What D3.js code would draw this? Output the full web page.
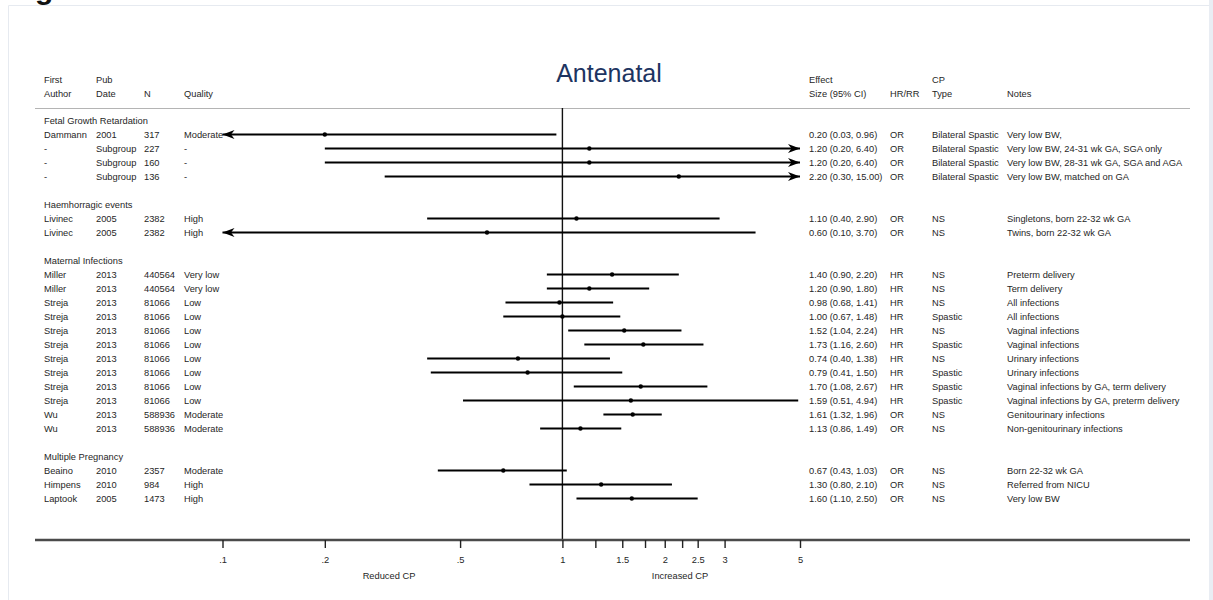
<!DOCTYPE html>
<html>
<head>
<meta charset="utf-8">
<script src="https://cdn.jsdelivr.net/npm/d3@7"></script>
<style>
  body { margin: 0; background: #fff; }
  svg text { font-family: "Liberation Sans", Arial, sans-serif; }
</style>
</head>
<body>
<svg id="chart" width="1213" height="600"></svg>
<script>
// dados do forest plot
const groups = ["Fetal Growth Retardation", "Haemhorragic events", "Maternal Infections", "Multiple Pregnancy"];
const groupOf  = [0, 0, 0, 0, 1, 1, 2, 2, 2, 2, 2, 2, 2, 2, 2, 2, 2, 2, 3, 3, 3];
const authors  = ["Dammann", "-", "-", "-", "Livinec", "Livinec", "Miller", "Miller", "Streja", "Streja", "Streja", "Streja", "Streja", "Streja", "Streja", "Streja", "Wu", "Wu", "Beaino", "Himpens", "Laptook"];
const pubDates = ["2001", "Subgroup", "Subgroup", "Subgroup", "2005", "2005", "2013", "2013", "2013", "2013", "2013", "2013", "2013", "2013", "2013", "2013", "2013", "2013", "2010", "2010", "2005"];
const sizes    = ["317", "227", "160", "136", "2382", "2382", "440564", "440564", "81066", "81066", "81066", "81066", "81066", "81066", "81066", "81066", "588936", "588936", "2357", "984", "1473"];
const quality  = ["Moderate", "-", "-", "-", "High", "High", "Very low", "Very low", "Low", "Low", "Low", "Low", "Low", "Low", "Low", "Low", "Moderate", "Moderate", "Moderate", "High", "High"];
const est      = [0.20, 1.20, 1.20, 2.20, 1.10, 0.60, 1.40, 1.20, 0.98, 1.00, 1.52, 1.73, 0.74, 0.79, 1.70, 1.59, 1.61, 1.13, 0.67, 1.30, 1.60];
const lower    = [0.03, 0.20, 0.20, 0.30, 0.40, 0.10, 0.90, 0.90, 0.68, 0.67, 1.04, 1.16, 0.40, 0.41, 1.08, 0.51, 1.32, 0.86, 0.43, 0.80, 1.10];
const upper    = [0.96, 6.40, 6.40, 15.00, 2.90, 3.70, 2.20, 1.80, 1.41, 1.48, 2.24, 2.60, 1.38, 1.50, 2.67, 4.94, 1.96, 1.49, 1.03, 2.10, 2.50];
const measure  = ["OR", "OR", "OR", "OR", "OR", "OR", "HR", "HR", "HR", "HR", "HR", "HR", "HR", "HR", "HR", "HR", "OR", "OR", "OR", "OR", "OR"];
const cpType   = ["Bilateral Spastic", "Bilateral Spastic", "Bilateral Spastic", "Bilateral Spastic", "NS", "NS", "NS", "NS", "NS", "Spastic", "NS", "Spastic", "NS", "Spastic", "Spastic", "Spastic", "NS", "NS", "NS", "NS", "NS"];
const notes    = ["Very low BW,", "Very low BW, 24-31 wk GA, SGA only", "Very low BW, 28-31 wk GA, SGA and AGA", "Very low BW, matched on GA",
  "Singletons, born 22-32 wk GA", "Twins, born 22-32 wk GA",
  "Preterm delivery", "Term delivery", "All infections", "All infections", "Vaginal infections", "Vaginal infections", "Urinary infections", "Urinary infections",
  "Vaginal infections by GA, term delivery", "Vaginal infections by GA, preterm delivery", "Genitourinary infections", "Non-genitourinary infections",
  "Born 22-32 wk GA", "Referred from NICU", "Very low BW"];
const tickValues = [0.1, 0.2, 0.5, 1, 1.25, 1.5, 1.75, 2, 2.25, 2.5, 3, 5];
const tickLabels = {0.1: ".1", 0.2: ".2", 0.5: ".5", 1: "1", 1.5: "1.5", 2: "2", 2.5: "2.5", 3: "3", 5: "5"};

const svg = d3.select("#chart");
const textColor = "#262626";
const fontSize = "9.3px";

// monta as linhas (cabeçalho de grupo, estudos, linha em branco)
const rows = [];
let r = 0;
groups.forEach((g, gi) => {
    if (gi > 0) r++; // linha em branco
    rows.push({type: "head", label: g, row: r++});
    groupOf.forEach((v, i) => {
        if (v === gi) rows.push({type: "study", i: i, row: r++});
    });
});

const x = d3.scaleLog().domain([0.1, 5]).range([222.5, 800]);
const y = d3.scaleLinear().domain([0, 27]).range([120.5, 498.5]);
const axisY = 540;

// moldura
svg.append("rect").attr("x", 1209).attr("y", 0).attr("width", 4).attr("height", 600).attr("fill", "#e9edf3");
svg.append("path").attr("d", "M8.5,600V5.5H1209.5").attr("fill", "none").attr("stroke", "#e6eaf0");
svg.append("text").attr("x", 35).attr("y", -1).attr("font-size", "30px").attr("font-weight", "bold").attr("fill", "#111").text("g");

// título
svg.append("text")
    .attr("x", 609).attr("y", 82)
    .attr("text-anchor", "middle")
    .attr("font-size", "25px")
    .attr("fill", "#1d3461")
    .text("Antenatal");

// cabeçalhos das colunas
const headers = [
    {x: 44, l1: "First", l2: "Author"},
    {x: 96, l1: "Pub", l2: "Date"},
    {x: 144, l1: "", l2: "N"},
    {x: 184, l1: "", l2: "Quality"},
    {x: 809, l1: "Effect", l2: "Size (95% CI)"},
    {x: 890, l1: "", l2: "HR/RR"},
    {x: 932, l1: "CP", l2: "Type"},
    {x: 1007, l1: "", l2: "Notes"}
];
const hdr = svg.append("g").attr("font-size", fontSize).attr("fill", textColor);
headers.forEach(h => {
    hdr.append("text").attr("x", h.x).attr("y", 82.5).text(h.l1);
    hdr.append("text").attr("x", h.x).attr("y", 96.5).text(h.l2);
});

svg.append("line")
    .attr("x1", 35).attr("x2", 1190).attr("y1", 108.5).attr("y2", 108.5)
    .attr("stroke", "#b4b4b4").attr("stroke-width", 1.2);

// linha de referência em 1
svg.append("line")
    .attr("x1", x(1)).attr("x2", x(1)).attr("y1", 108).attr("y2", axisY)
    .attr("stroke", "#111").attr("stroke-width", 1.4);

// textos das linhas
const txt = svg.append("g").attr("font-size", fontSize).attr("fill", textColor);
const fmt = d3.format(".2f");
rows.forEach(d => {
    const yy = y(d.row) + 3.4;
    if (d.type === "head") {
        txt.append("text").attr("x", 44).attr("y", yy).text(d.label);
        return;
    }
    const i = d.i;
    txt.append("text").attr("x", 44).attr("y", yy).text(authors[i]);
    txt.append("text").attr("x", 96).attr("y", yy).text(pubDates[i]);
    txt.append("text").attr("x", 144).attr("y", yy).text(sizes[i]);
    txt.append("text").attr("x", 184).attr("y", yy).text(quality[i]);
    txt.append("text").attr("x", 809).attr("y", yy).text(`${fmt(est[i])} (${fmt(lower[i])}, ${fmt(upper[i])})`);
    txt.append("text").attr("x", 890).attr("y", yy).text(measure[i]);
    txt.append("text").attr("x", 932).attr("y", yy).text(cpType[i]);
    txt.append("text").attr("x", 1007).attr("y", yy).text(notes[i]);
});

// intervalos de confiança
const [xmin, xmax] = x.domain();
const marks = svg.append("g");
const arrowPath = "M0,0L-12,-4.5L-8.5,0L-12,4.5Z";
rows.filter(d => d.type === "study").forEach(d => {
    const i = d.i;
    const yy = y(d.row);
    const x1 = x(Math.max(lower[i], xmin));
    const x2 = x(Math.min(upper[i], xmax));
    marks.append("line")
        .attr("x1", x1).attr("x2", x2).attr("y1", yy).attr("y2", yy)
        .attr("stroke", "#000").attr("stroke-width", 1.8);
    if (lower[i] <= xmin) {
        marks.append("path").attr("d", arrowPath)
            .attr("transform", `translate(${x1},${yy}) rotate(180)`).attr("fill", "#000");
    }
    if (upper[i] > xmax) {
        marks.append("path").attr("d", arrowPath)
            .attr("transform", `translate(${x2},${yy})`).attr("fill", "#000");
    }
    marks.append("circle").attr("cx", x(est[i])).attr("cy", yy).attr("r", 2.2).attr("fill", "#000");
});

// eixo
svg.append("line")
    .attr("x1", 35).attr("x2", 1190).attr("y1", axisY).attr("y2", axisY)
    .attr("stroke", "#4a4a4a").attr("stroke-width", 2.5);

const axis = svg.append("g")
    .attr("transform", `translate(0,${axisY})`)
    .call(d3.axisBottom(x).tickValues(tickValues).tickSize(8).tickFormat(v => tickLabels[v] || ""));
axis.select(".domain").remove();
axis.selectAll(".tick line").attr("stroke", "#222").attr("stroke-width", 1.4);
axis.selectAll(".tick text")
    .attr("font-size", fontSize).attr("fill", textColor)
    .attr("font-family", "Liberation Sans, Arial, sans-serif")
    .attr("dy", "1.25em");

svg.append("text").attr("x", 389).attr("y", 578.5).attr("text-anchor", "middle")
    .attr("font-size", fontSize).attr("fill", textColor).text("Reduced CP");
svg.append("text").attr("x", 680).attr("y", 578.5).attr("text-anchor", "middle")
    .attr("font-size", fontSize).attr("fill", textColor).text("Increased CP");
</script>
</body>
</html>
